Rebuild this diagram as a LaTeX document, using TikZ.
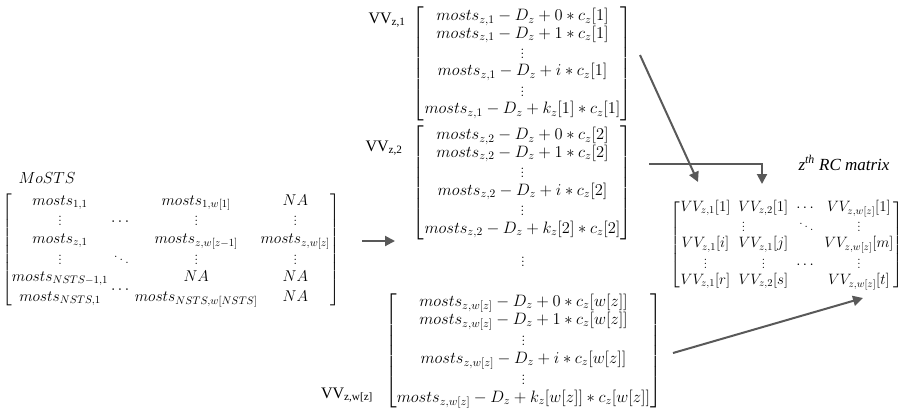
\RequirePackage{fix-cm}
\documentclass[tikz,border=0pt]{standalone}
\usepackage{amsmath}
\usepackage{fontspec}
\newfontfamily\timesf{Liberation Serif}
\usetikzlibrary{arrows.meta}
\definecolor{arrowgray}{HTML}{595959}
\begin{document}
\begin{tikzpicture}[x=1pt,y=-1pt]
\useasboundingbox (0,0) rectangle (912,413);
\tikzset{
  mat/.style={inner sep=0pt, outer sep=0pt},
  lbl/.style={inner sep=0pt, font=\timesf\fontsize{16}{18}\selectfont},
  conn/.style={draw=arrowgray, line width=2pt, -{Triangle[length=10pt,width=10pt]}},
}
% left matrix
\node[lbl] (ms) at (47,178) {\fontsize{16}{18}\selectfont $MoSTS$};
\node[mat] (L) at (171,250) {\fontsize{15.6}{17.3}\selectfont\setlength\arraycolsep{1.5pt}$\begin{bmatrix}
mosts_{1,1} & & mosts_{1,w[1]} & NA\\
\vdots & \cdots & \vdots & \vdots\\
mosts_{z,1} & & mosts_{z,w[z-1]} & mosts_{z,w[z]}\\
\vdots & \ddots & \vdots & \vdots\\
mosts_{NSTS-1,1} & & NA & NA\\
mosts_{NSTS,1} & \raisebox{8pt}{$\cdots$} & mosts_{NSTS,w[NSTS]} & NA
\end{bmatrix}$};
% middle matrices
\node[lbl] (v1) at (387,20) {VV\textsubscript{z,1}};
\node[mat] (M1) at (522.5,63.5) {\fontsize{16.5}{16.8}\selectfont$\begin{bmatrix}
mosts_{z,1}-D_z+0*c_z[1]\\
mosts_{z,1}-D_z+1*c_z[1]\\
\vdots\\
mosts_{z,1}-D_z+i*c_z[1]\\
\vdots\\
mosts_{z,1}-D_z+k_z[1]*c_z[1]
\end{bmatrix}$};
\node[lbl] (v2) at (384,148) {VV\textsubscript{z,2}};
\node[mat] (M2) at (522.5,183) {\fontsize{16.5}{17.2}\selectfont$\begin{bmatrix}
mosts_{z,2}-D_z+0*c_z[2]\\
mosts_{z,2}-D_z+1*c_z[2]\\
\vdots\\
mosts_{z,2}-D_z+i*c_z[2]\\
\vdots\\
mosts_{z,2}-D_z+k_z[2]*c_z[2]
\end{bmatrix}$};
\node[mat] (vd) at (523,259) {\fontsize{16.5}{17.6}\selectfont$\vdots$};
\node[lbl] (v3) at (347,395) {VV\textsubscript{z,w[z]}};
\node[mat] (M3) at (523.5,351) {\fontsize{16.5}{17.6}\selectfont$\begin{bmatrix}
mosts_{z,w[z]}-D_z+0*c_z[w[z]]\\
mosts_{z,w[z]}-D_z+1*c_z[w[z]]\\
\vdots\\
mosts_{z,w[z]}-D_z+i*c_z[w[z]]\\
\vdots\\
mosts_{z,w[z]}-D_z+k_z[w[z]]*c_z[w[z]]
\end{bmatrix}$};
% right matrix
\node[lbl] (rc) at (844,163) {\itshape\fontsize{17}{19}\selectfont z\textsuperscript{th} RC matrix};
\node[mat] (R) at (787,245) {\fontsize{15}{16}\selectfont\setlength\arraycolsep{4pt}$\begin{bmatrix}
VV_{z,1}[1] & VV_{z,2}[1] & \cdots & VV_{z,w[z]}[1]\\
 & \llap{$\vdots$\hspace{18pt}} & \ddots & \vdots\\
VV_{z,1}[i] & VV_{z,1}[j] & & VV_{z,w[z]}[m]\\
\vdots & \vdots & \cdots & \vdots\\
VV_{z,1}[r] & VV_{z,2}[s] & & VV_{z,w[z]}[t]
\end{bmatrix}$};
% connectors
\coordinate (a1s) at (362,241);
\coordinate (a1e) at (395,241);
\coordinate (a2s) at (640,55);
\coordinate (a2e) at (698,182);
\coordinate (a3s) at (649,164);
\coordinate (a3e) at (762,184);
\coordinate (a4s) at (673,353);
\coordinate (a4e) at (863,298);
\draw[conn] (a1s) -- (a1e);
\draw[conn] (a2s) -- (a2e);
\draw[conn] (a3s) -| (a3e);
\draw[conn] (a4s) -- (a4e);
\end{tikzpicture}
\end{document}
